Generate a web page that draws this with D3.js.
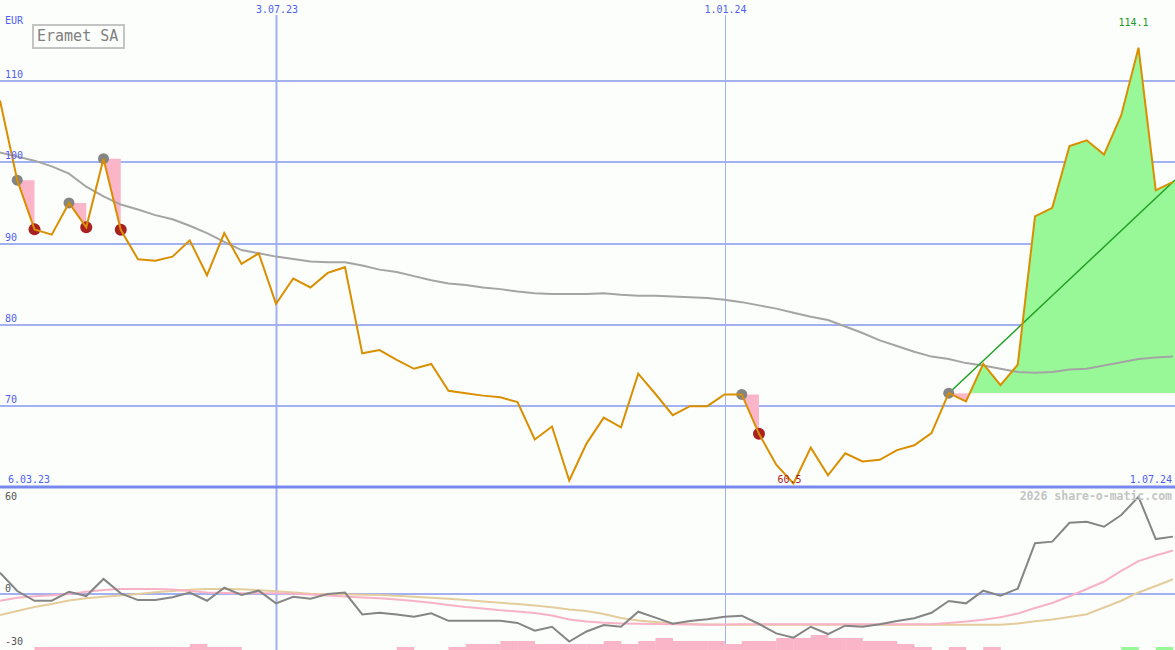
<!DOCTYPE html>
<html><head><meta charset="utf-8">
<script src="https://cdn.jsdelivr.net/npm/d3@7"></script>
<style>html,body{margin:0;padding:0;background:#fbfefb;}svg{display:block;}</style>
</head><body>
<svg id="c" width="1175" height="650"></svg>
<script>
// ---- data (weekly, index 0..68) ----
const title = "Eramet SA";
const currency = "EUR";
const priceTicks = [70, 80, 90, 100, 110];
const dateTickLabels = ["3.07.23", "1.01.24"];
const dateTickIndex = [16, 42];
const rangeStartLabel = "6.03.23";
const rangeEndLabel = "1.07.24";
const lowerTicks = [60, 0, -30];
const priceValues = [107.6,97.8,91.75,91.1,95.0,92.0,100.45,91.7,88.06,87.9,
  88.4,90.4,86.1,91.3,87.5,88.8,82.6,85.7,84.6,86.4,
  87.1,76.5,76.9,75.7,74.6,75.2,71.9,71.6,71.3,71.1,
  70.5,65.9,67.5,60.86,65.4,68.6,67.4,74.0,71.5,68.9,
  70.0,70.0,71.45,71.45,66.6,62.8,60.5,64.9,61.5,64.2,
  63.2,63.4,64.6,65.2,66.7,71.6,70.6,75.2,72.6,75.1,
  93.35,94.4,102.0,102.7,100.95,105.8,114.1,96.55,97.6];
const maValues = [101.2,100.7,100.2,99.5,98.6,97.0,95.8,94.8,94.2,93.5,
  93.0,92.2,91.3,90.2,89.2,88.8,88.4,88.1,87.8,87.7,
  87.7,87.3,86.8,86.5,86.0,85.5,85.1,84.9,84.6,84.4,
  84.1,83.9,83.8,83.8,83.8,83.9,83.7,83.6,83.6,83.5,
  83.4,83.3,83.1,82.8,82.4,82.0,81.5,81.0,80.6,79.8,
  79.0,78.1,77.4,76.7,76.1,75.8,75.3,75.0,74.6,74.2,
  74.1,74.2,74.5,74.6,75.0,75.4,75.8,76.0,76.1];
const momentumValues = [12.3,1.7,-3.9,-3.9,1.3,-1.2,8.7,0.4,-3.5,-3.5,
  -1.9,0.8,-3.9,3.6,-0.6,1.9,-5.4,-1.6,-2.7,0,
  0.8,-11.8,-10.8,-11.8,-13.1,-11.1,-15.5,-15.5,-15.5,-15.5,
  -16.7,-21.2,-18.9,-27.4,-21.6,-17.9,-18.9,-10.2,-13.6,-17.1,
  -15.6,-14.5,-13.1,-12.5,-17.3,-22.7,-25.2,-18.9,-23.1,-18.3,
  -18.9,-17.5,-15.6,-14.0,-10.8,-4.0,-5.4,1.9,-1.0,3.1,
  29.3,30.2,41.1,41.7,38.8,45.6,56.1,31.7,33.1];
const fastAvgValues = [-3.9,-2.2,-1.3,-0.7,0,1.3,2.3,2.9,2.9,2.9,
  2.6,1.7,0.9,0.6,0.4,0.4,0.4,0.2,-0.3,-0.9,
  -1.4,-2.0,-2.5,-3.2,-4.0,-5.1,-6.3,-7.5,-8.4,-9.4,
  -10.1,-11.0,-12.4,-14.7,-15.9,-16.6,-17.0,-17.2,-17.3,-17.5,
  -17.6,-17.8,-17.6,-17.5,-17.5,-17.5,-17.5,-17.5,-17.5,-17.5,
  -17.5,-17.5,-17.5,-17.5,-17.5,-16.7,-15.9,-14.9,-13.4,-11.3,
  -8.1,-5.2,-1.3,2.9,7.2,13.3,19.0,22.2,25.1];
const slowAvgValues = [-12.1,-9.8,-7.5,-5.8,-3.8,-2.5,-1.6,-0.8,0,1.0,
  1.8,2.4,2.9,2.9,2.7,2.2,1.6,0.9,0.2,0,
  -0.2,-0.5,-0.6,-1.0,-1.6,-2.2,-2.7,-3.5,-4.3,-5.1,
  -5.8,-6.7,-7.7,-8.9,-9.8,-11.5,-13.8,-15.3,-16.2,-16.9,
  -17.3,-17.6,-17.7,-17.7,-17.7,-17.7,-17.7,-17.7,-17.7,-17.7,
  -17.7,-17.7,-17.7,-17.7,-17.7,-17.7,-17.7,-17.7,-17.7,-17.0,
  -15.7,-14.7,-13.3,-11.7,-7.8,-3.9,0.9,4.6,8.5];
const barValues = [0,0,-1,-1,-1,-1,-1,-1,-1,-1,
  -1,-2,-1,-1,0,0,0,0,0,0,
  0,0,0,-1,0,0,-1,-2,-2,-3,
  -3,-2,-2,-2,-2,-3,-2,-3,-4,-3,
  -3,-3,-2,-3,-3,-4,-4,-5,-4,-4,
  -3,-3,-2,-1,0,-1,0,-1,0,0,
  0,0,0,0,0,1,0,1,0];
const sellSignalFrom = [1, 4, 6, 43];
const sellSignalTo = [2, 5, 7, 44];
const buySignalFrom = 55;
const maxLabel = "114.1";
const minLabel = "60.5";
const maxIndex = 66, minIndex = 46;
const watermark = "2026 share-o-matic.com";

// ---- scales ----
const svg = d3.select("#c");
const W = 1175, H = 650;
const x = d3.scaleLinear().domain([0, 68]).range([0, 1173]);
const y = d3.scaleLinear().domain([60, 110]).range([487.5, 81]);
const yl = d3.scaleLinear().domain([-30, 60]).range([646, 490]);
const yb = d3.scaleLinear().domain([0, 5]).range([650, 635]);
const step = x(1) - x(0);

const grid = "#a3b1f3", axisText = "#4f5ff0", font = "DejaVu Sans Mono, monospace";

svg.append("rect").attr("width", W).attr("height", H).attr("fill", "#fbfefb");

// horizontal grid (price)
svg.append("g").selectAll("line").data(priceTicks).join("line")
  .attr("x1", 0).attr("x2", W).attr("y1", d => Math.round(y(d))).attr("y2", d => Math.round(y(d)))
  .attr("stroke", grid).attr("stroke-width", 2);
// lower zero line
svg.append("line").attr("x1", 0).attr("x2", W).attr("y1", yl(0)).attr("y2", yl(0))
  .attr("stroke", grid).attr("stroke-width", 2);
// vertical date lines
svg.append("g").selectAll("line").data(dateTickIndex).join("line")
  .attr("x1", d => Math.round(x(d)) + 0.5).attr("x2", d => Math.round(x(d)) + 0.5)
  .attr("y1", 15).attr("y2", H)
  .attr("stroke", grid).attr("stroke-width", (d, i) => i === 0 ? 2 : 1);

// lower bars
svg.append("g").selectAll("rect").data(barValues.map((v, i) => ({v, i})).filter(d => d.v !== 0)).join("rect")
  .attr("x", d => x(d.i)).attr("width", step + 0.3)
  .attr("y", d => yb(Math.abs(d.v))).attr("height", d => yb(0) - yb(Math.abs(d.v)))
  .attr("fill", d => d.v < 0 ? "#fbb5c9" : "#98f898");

// sell-signal triangles
sellSignalFrom.forEach((g, k) => {
  const r = sellSignalTo[k];
  const pts = [[x(g), y(priceValues[g])], [x(r), y(priceValues[g])], [x(r), y(priceValues[r])]];
  svg.append("path").attr("d", d3.line()(pts) + "Z").attr("fill", "#fbb5c9");
});

// buy-signal area (green above reference, pink below)
const base = priceValues[buySignalFrom];
const seg = d3.range(buySignalFrom, priceValues.length);
const areaGen = d3.area().x(i => x(i)).y0(y(base)).y1(i => y(priceValues[i]));
const defs = svg.append("defs");
defs.append("clipPath").attr("id", "above").append("rect").attr("x", 0).attr("y", 0).attr("width", W).attr("height", y(base));
defs.append("clipPath").attr("id", "below").append("rect").attr("x", 0).attr("y", y(base)).attr("width", W).attr("height", H);
svg.append("path").attr("d", areaGen(seg)).attr("fill", "#98f898").attr("clip-path", "url(#above)");
svg.append("path").attr("d", areaGen(seg)).attr("fill", "#fbb5c9").attr("clip-path", "url(#below)");
svg.append("rect").attr("x", x(priceValues.length - 1)).attr("y", y(priceValues[priceValues.length-1]))
  .attr("width", W - x(priceValues.length - 1)).attr("height", y(base) - y(priceValues[priceValues.length-1])).attr("fill", "#98f898");

// moving average
const idx = d3.range(priceValues.length);
svg.append("path").attr("d", d3.line().x(i => x(i)).y(i => y(maValues[i]))(idx))
  .attr("fill", "none").attr("stroke", "#a4a4a4").attr("stroke-width", 2);

// lower lines
const lowerLine = arr => d3.line().x(i => x(i)).y(i => yl(arr[i]))(idx);
svg.append("path").attr("d", lowerLine(slowAvgValues)).attr("fill", "none").attr("stroke", "#e4cc9c").attr("stroke-width", 2);
svg.append("path").attr("d", lowerLine(fastAvgValues)).attr("fill", "none").attr("stroke", "#f8b2c6").attr("stroke-width", 2);
svg.append("path").attr("d", lowerLine(momentumValues)).attr("fill", "none").attr("stroke", "#858585").attr("stroke-width", 2);

// trend line
const last = priceValues.length - 1;
svg.append("line").attr("x1", x(buySignalFrom)).attr("y1", y(base)).attr("x2", W).attr("y2", y(priceValues[last]) - (W - x(last)) * (y(base) - y(priceValues[last])) / (x(last) - x(buySignalFrom)))
  .attr("stroke", "#22a022").attr("stroke-width", 1.5);

// markers (under price line)
svg.append("g").selectAll("circle").data(sellSignalFrom.concat([buySignalFrom])).join("circle")
  .attr("cx", d => x(d)).attr("cy", d => y(priceValues[d])).attr("r", 5.5).attr("fill", "#858585");
svg.append("g").selectAll("circle").data(sellSignalTo).join("circle")
  .attr("cx", d => x(d)).attr("cy", d => y(priceValues[d])).attr("r", 6).attr("fill", "#a82020");

// price line
svg.append("path").attr("d", d3.line().x(i => x(i)).y(i => y(priceValues[i]))(idx))
  .attr("fill", "none").attr("stroke", "#d98f00").attr("stroke-width", 2);

// panel separator
svg.append("line").attr("x1", 0).attr("x2", W).attr("y1", 487).attr("y2", 487)
  .attr("stroke", "#7888ee").attr("stroke-width", 3);

// texts
const txt = (s, xx, yy, opts = {}) => svg.append("text").text(s).attr("x", xx).attr("y", yy)
  .attr("font-family", font).attr("font-size", opts.size || 10).attr("fill", opts.fill || axisText)
  .attr("text-anchor", opts.anchor || "start").attr("font-weight", opts.weight || "normal");
txt(currency, 5, 24);
priceTicks.forEach(t => txt(String(t), 5, Math.round(y(t)) - 3));
dateTickLabels.forEach((s, k) => txt(s, x(dateTickIndex[k]) + 1, 13, {anchor: "middle"}));
txt(rangeStartLabel, 8, 483);
txt(rangeEndLabel, 1172, 483, {anchor: "end"});
lowerTicks.forEach(t => txt(String(t), 5, yl(t) + (t === 60 ? 10 : (t === 0 ? -2 : -1)), {fill: "#555"}));
txt(maxLabel, x(maxIndex) - 5, 26, {anchor: "middle", fill: "#229922"});
txt(minLabel, x(minIndex) - 4, 483, {anchor: "middle", fill: "#a82020"});
txt(watermark, 1172, 500, {anchor: "end", fill: "#c4c4c4", size: 11.5, weight: "bold"});

// title box
svg.append("rect").attr("x", 33).attr("y", 25).attr("width", 91).attr("height", 23)
  .attr("fill", "none").attr("stroke", "#c4c4c4").attr("stroke-width", 2);
txt(title, 37, 41, {size: 15, fill: "#808080"});
</script>
</body></html>
